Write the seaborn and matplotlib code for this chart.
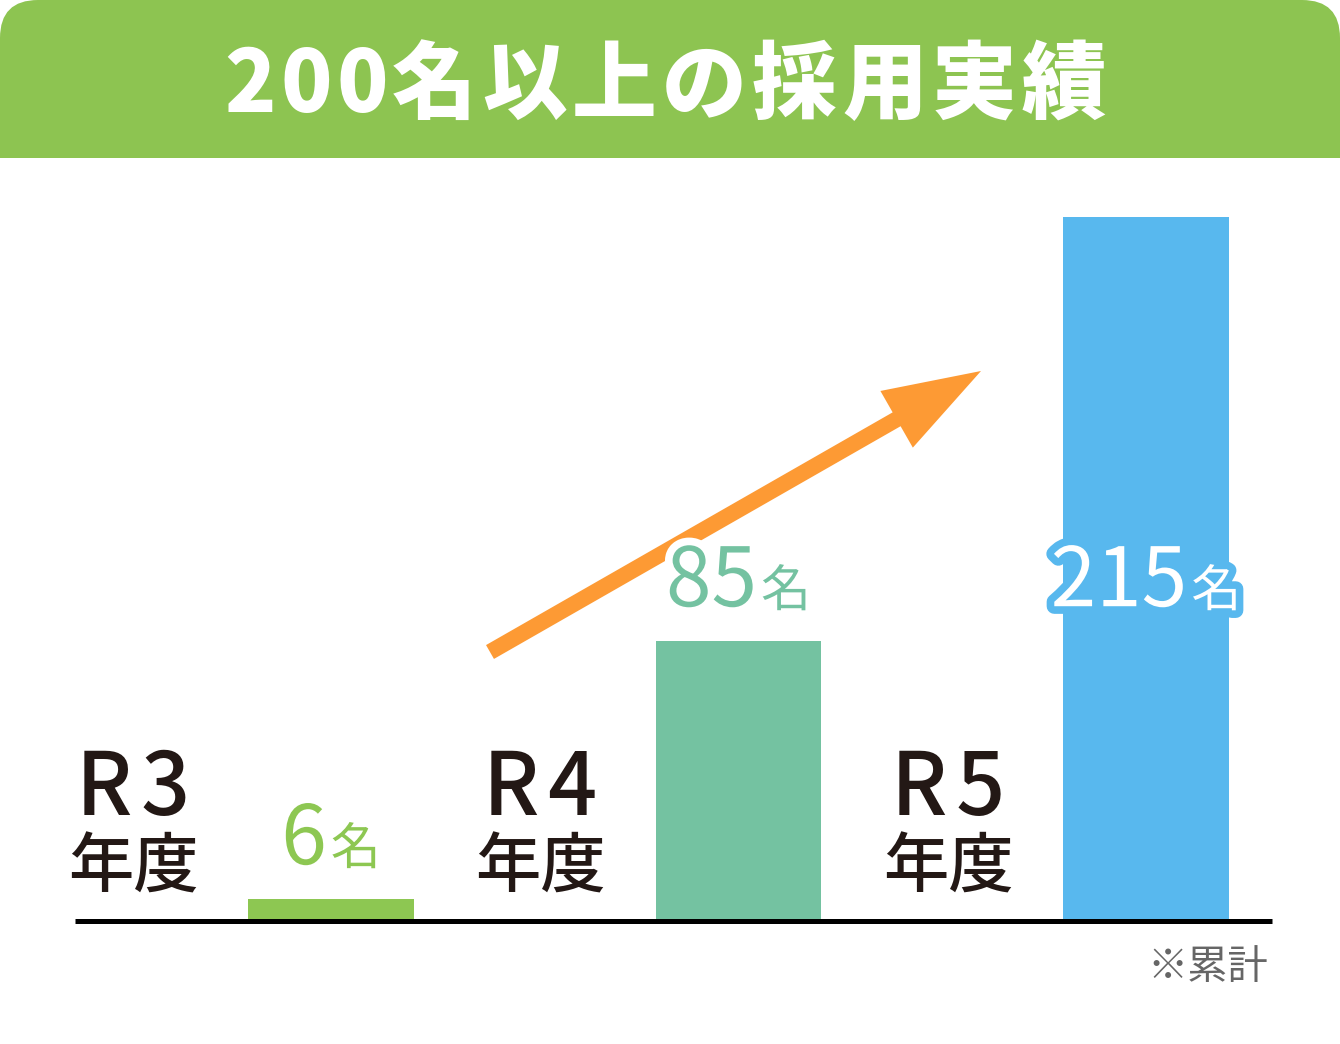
import matplotlib
matplotlib.use("Agg")
import matplotlib.pyplot as plt
import matplotlib.patheffects as pe
from matplotlib.patches import FancyBboxPatch, Rectangle, FancyArrowPatch, ArrowStyle
from matplotlib.transforms import IdentityTransform
import seaborn as sns
import pandas as pd

# ---- data ----
years = ["R3", "R4", "R5"]
year_suffix = ["年度", "年度", "年度"]
hires = [6, 85, 215]
bar_colors = ["#8DC752", "#74C2A1", "#58B8EE"]
value_unit = "名"
title_chars = list("200名以上の採用実績")
note_text = "※累計"

df = pd.DataFrame({"year": years, "hires": hires})

sns.set_theme(style="white")
plt.rcParams["font.family"] = ["Noto Sans CJK JP", "DejaVu Sans"]

W, H = 1340, 1044
fig = plt.figure(figsize=(W / 100, H / 100), dpi=100)
fig.patch.set_facecolor("white")
ax = fig.add_axes([0, 0, 1, 1])

sns.barplot(data=df, x="year", y="hires", hue="year", palette=bar_colors,
            saturation=1, width=0.405, linewidth=0, legend=False, ax=ax, zorder=2)

# pixel mapping: bar center i -> x0 + px_per_x*i ; value v -> 919 - 3.265*v
px_per_x = 407.5
px_per_y = 3.265
x0_px, y0_px = 331, 919
ax.set_xlim(-x0_px / px_per_x, (W - x0_px) / px_per_x)
ax.set_ylim(-(H - y0_px) / px_per_y, y0_px / px_per_y)
ax.axis("off")

# baseline
ax.plot([(75 - x0_px) / px_per_x, (1272 - x0_px) / px_per_x], [-0.6, -0.6],
        color="black", lw=3.6, solid_capstyle="butt", zorder=3)

# header band
ident = IdentityTransform()
band_h = 158
fig.patches.append(FancyBboxPatch((0, H - band_h), W, band_h,
                                  boxstyle="round,pad=0,rounding_size=38",
                                  transform=ident, facecolor="#8DC451",
                                  edgecolor="none", figure=fig))
fig.patches.append(Rectangle((0, H - band_h), W, 60, transform=ident,
                             facecolor="#8DC451", edgecolor="none", figure=fig))

# title characters with tracking
xpos = 224
for ch in title_chars:
    fig.text(xpos / W, 1 - 112 / H, ch, color="white", fontsize=61,
             fontweight="black", ha="left", va="baseline")
    xpos += 56 if ch.isdigit() else 90

# arrow
arrow = FancyArrowPatch(posA=((490 - x0_px) / px_per_x, (y0_px - 652) / px_per_y),
                        posB=((981 - x0_px) / px_per_x, (y0_px - 371) / px_per_y),
                        arrowstyle=ArrowStyle.Simple(head_length=70, head_width=47,
                                                     tail_width=11.5),
                        mutation_scale=1, shrinkA=0, shrinkB=0,
                        color="#FD9A34", lw=0, zorder=4)
ax.add_patch(arrow)

# category labels
for i, (yr, suf) in enumerate(zip(years, year_suffix)):
    ax.text(i - 198 / px_per_x, (y0_px - 815) / px_per_y, yr[0] + "\u200a" + yr[1:],
            fontsize=62, fontweight="medium", color="#231815",
            ha="center", va="baseline", zorder=5)
    ax.text(i - 198 / px_per_x, (y0_px - 869) / px_per_y, suf,
            fontsize=47, fontweight="medium", color="#231815",
            ha="center", va="center", zorder=5)

# value labels
fig.canvas.draw()
renderer = fig.canvas.get_renderer()
label_offset = 10.8
for i, v in enumerate(hires):
    inside = v > 150
    ly = min(v, 85) + label_offset
    txtcol = "white" if inside else bar_colors[i]
    stroke = bar_colors[i] if inside else "white"
    effects = [pe.withStroke(linewidth=11, foreground=stroke)]
    t1 = ax.annotate(str(v), xy=(i, ly), xytext=(0, 0), textcoords="offset pixels",
                     fontsize=59, color=txtcol, ha="left", va="baseline",
                     path_effects=effects, zorder=6)
    t2 = ax.annotate(value_unit, xy=(i, ly), xytext=(0, 0), textcoords="offset pixels",
                     fontsize=36, color=txtcol, ha="left", va="baseline",
                     path_effects=effects, zorder=6)
    wd = t1.get_window_extent(renderer).width
    wn = t2.get_window_extent(renderer).width
    gap = 4
    total = wd + gap + wn
    t1.xyann = (-total / 2, 0)
    t2.xyann = (-total / 2 + wd + gap, 0)

fig.text(1268 / W, 1 - 968 / H, note_text, fontsize=29, color="#666666",
         ha="right", va="center")

fig.savefig("out.png", dpi=100, facecolor="white")
